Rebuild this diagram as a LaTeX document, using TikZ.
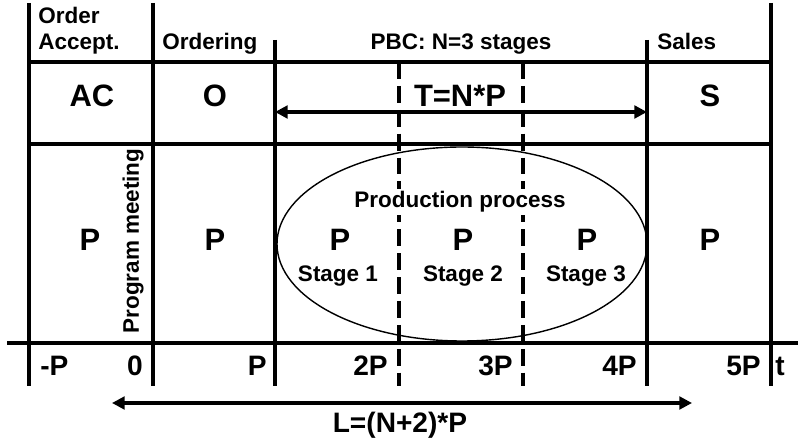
\documentclass[tikz,border=0pt]{standalone}
\usepackage{fontspec}
\setmainfont{Liberation Sans}
\usetikzlibrary{arrows.meta}

\tikzset{
    lbl/.style={font=\fontsize{16}{18.5}\selectfont\bfseries, inner sep=0pt},
    big/.style={font=\fontsize{22}{26}\selectfont\bfseries, inner sep=0pt},
    tick/.style={font=\fontsize{20}{24}\selectfont\bfseries, inner sep=0pt},
    grid/.style={line width=2.2pt},
    stagesep/.style={line width=2.2pt, dash pattern=on 12pt off 5pt},
    span/.style={line width=2.2pt,
        {Triangle[length=9pt,width=9pt]}-{Triangle[length=9pt,width=9pt]}}
}

\begin{document}
\begin{tikzpicture}
    \useasboundingbox (0,0) rectangle (19.95,11.0);

    % production process
    \draw[line width=1pt] (11.55,4.9) ellipse (4.625 and 2.425);

    % table lines
    \draw[grid] (0.725,10.925) -- (0.725,1.35);
    \draw[grid] (3.825,10.925) -- (3.825,1.35);
    \draw[grid] (6.875,10.0) -- (6.875,1.35);
    \draw[grid] (16.175,10.0) -- (16.175,1.35);
    \draw[grid] (19.275,10.925) -- (19.275,1.35);
    \draw[stagesep] (9.975,9.45) -- (9.975,1.35);
    \draw[stagesep] (13.075,9.45) -- (13.075,1.35);
    \draw[grid] (0.725,9.45) -- (19.275,9.45);
    \draw[grid] (0.725,7.4) -- (19.275,7.4);
    \draw[grid] (0.175,2.425) -- (19.95,2.425);

    % headers
    \node[lbl, anchor=base west] (order) at (0.95,10.4) {Order};
    \node[lbl, anchor=base west] (accept) at (0.95,9.75) {Accept.};
    \node[lbl, anchor=base west] (ordering) at (4.05,9.75) {Ordering};
    \node[lbl, anchor=base] (pbc) at (11.525,9.75) {PBC: N=3 stages};
    \node[lbl, anchor=base west] (sales) at (16.425,9.75) {Sales};

    % roles
    \node[big] (ac) at (2.3,8.6) {AC};
    \node[big] (o) at (5.375,8.6) {O};
    \node[big] (tnp) at (11.5,8.6) {T=N*P};
    \node[big] (s) at (17.75,8.6) {S};
    \coordinate (tl) at (6.875,8.2);
    \coordinate (tr) at (16.175,8.2);
    \draw[span] (tl) -- (tr);

    % periods
    \node[big] (p0) at (2.25,5.0) {P};
    \node[big] (p1) at (5.375,5.0) {P};
    \node[big] (p2) at (8.5,5.0) {P};
    \node[big] (p3) at (11.575,5.0) {P};
    \node[big] (p4) at (14.675,5.0) {P};
    \node[big] (p5) at (17.75,5.0) {P};
    \node[lbl, rotate=90] (meeting) at (3.325,4.975) {Program meeting};
    \node[lbl, fill=white, inner sep=2pt] (process) at (11.5,5.95)
        {Production process};
    \node[lbl] (st1) at (8.45,4.1) {Stage 1};
    \node[lbl] (st2) at (11.575,4.1) {Stage 2};
    \node[lbl] (st3) at (14.65,4.1) {Stage 3};

    % time axis
    \node[tick, anchor=west] (tm1) at (1.0,1.85) {-P};
    \node[tick, anchor=east] (t0) at (3.575,1.85) {0};
    \node[tick, anchor=east] (t1) at (6.675,1.85) {P};
    \node[tick, anchor=east] (t2) at (9.7,1.85) {2P};
    \node[tick, anchor=east] (t3) at (12.825,1.85) {3P};
    \node[tick, anchor=east] (t4) at (15.925,1.85) {4P};
    \node[tick, anchor=east] (t5) at (19.025,1.85) {5P};
    \node[tick, anchor=west] (t) at (19.375,1.85) {t};

    % lead time
    \coordinate (ll) at (2.8,0.925);
    \coordinate (lr) at (17.3,0.925);
    \draw[span] (ll) -- (lr);
    \node[tick] (lead) at (10.0,0.375) {L=(N+2)*P};
\end{tikzpicture}
\end{document}
